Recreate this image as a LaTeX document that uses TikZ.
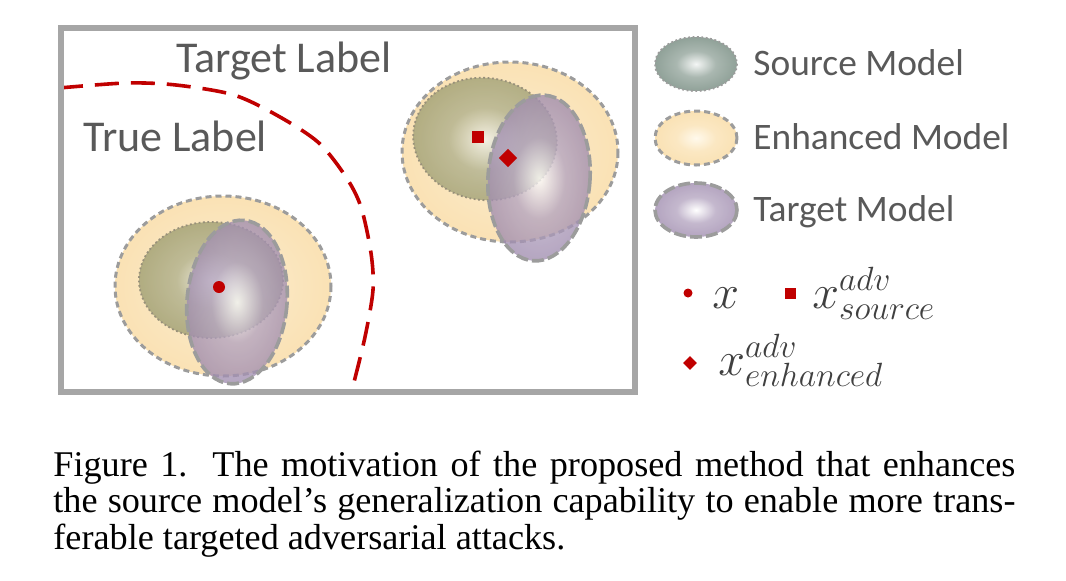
\documentclass[tikz,border=0pt]{standalone}
\usepackage{fix-cm}
\usepackage{fontspec}
\setmainfont{Liberation Serif}
\newfontfamily\labelfont{Carlito}
\usetikzlibrary{positioning}
\definecolor{cframe}{HTML}{A6A6A6}
\definecolor{cred}{HTML}{C00000}
\definecolor{ctext}{HTML}{595959}
\definecolor{cmath}{HTML}{404040}
\definecolor{cedge}{HTML}{9C9C9C}
\definecolor{cdots}{HTML}{98907A}
\definecolor{enhlt}{HTML}{FFF9EC}
\definecolor{enhdk}{HTML}{F7D699}
\definecolor{srclt}{HTML}{F0F0E6}
\definecolor{srcdk}{HTML}{74763C}
\definecolor{keylt}{HTML}{F4F6F5}
\definecolor{keydk}{HTML}{5F786B}
\definecolor{tgtlt}{HTML}{FFFFFF}
\definecolor{tgtdk}{HTML}{765A8C}
\pgfdeclareradialshading{enhshade}{\pgfpoint{0bp}{0bp}}{color(0bp)=(enhlt); color(12bp)=(enhdk!50!enhlt); color(50bp)=(enhdk)}
\pgfdeclareradialshading{srcshade}{\pgfpoint{0bp}{0bp}}{color(0bp)=(srclt); color(12bp)=(srcdk!55!srclt); color(50bp)=(srcdk)}
\pgfdeclareradialshading{keyshade}{\pgfpoint{0bp}{0bp}}{color(0bp)=(keylt); color(12bp)=(keydk!50!keylt); color(50bp)=(keydk)}
\pgfdeclareradialshading{tgtshade}{\pgfpoint{0bp}{0bp}}{color(0bp)=(tgtlt); color(12bp)=(tgtdk!55!tgtlt); color(50bp)=(tgtdk)}

\begin{document}
\begin{tikzpicture}[x=0.5pt, y=-0.5pt,
    labeltext/.style={font=\labelfont\fontsize{22}{26}\selectfont, text=ctext, inner sep=0, anchor=base west},
    keytext/.style={font=\labelfont\fontsize{18.7}{22}\selectfont, text=ctext, inner sep=0, anchor=base west},
    mathtext/.style={font=\fontsize{24}{28}\selectfont, text=cmath, inner sep=0, anchor=base west},
    captext/.style={font=\fontsize{18.1}{18.25}\selectfont, inner sep=0, anchor=base west},
    enhblob/.style={shading=enhshade, draw=cedge, line width=1.5pt, dash pattern=on 3pt off 2pt},
    srcblob/.style={shading=srcshade, fill opacity=0.75, draw=cdots, line width=0.9pt, dash pattern=on 0.9pt off 1.3pt},
    srckey/.style={shading=keyshade, draw=cedge, line width=0.9pt, dash pattern=on 0.9pt off 1.3pt},
    tgtblob/.style={shading=tgtshade, fill opacity=0.78, draw=cedge, line width=1.8pt, dash pattern=on 6pt off 2pt},
    dotmark/.style={circle, fill=cred, inner sep=0, minimum size=#1},
    boxmark/.style={rectangle, fill=cred, inner sep=0, minimum size=#1},
    gemmark/.style={rectangle, fill=cred, inner sep=0, minimum size=#1, rotate=45},
  ]
  \useasboundingbox (0,0) rectangle (1066,580);

  % decision boundary
  \draw[cred, line width=1.8pt, dash pattern=on 12pt off 6pt] plot[smooth] coordinates
    {(59,88) (126,83) (176,85) (234,95) (280,117) (319,143) (346,177) (361,207) (371,253) (373,290) (365,337) (353,386)};
  \draw[cframe, line width=3pt] (61,28) rectangle (635,392);
  \node[labeltext] (target) at (176,72) {Target Label};
  \node[labeltext] (true) at (83,151) {True Label};

  % models around x
  \shadedraw[enhblob] (223,286) ellipse [x radius=108, y radius=90];
  \shadedraw[srcblob] (211,280) ellipse [x radius=72, y radius=58];
  \shadedraw[tgtblob, rotate around={-5:(237,302)}] (237,302) ellipse [x radius=50, y radius=82];
  \node[dotmark=6pt] (xpt) at (219,287) {};

  % models around the adversarial examples
  \shadedraw[enhblob] (510,152) ellipse [x radius=108, y radius=90];
  \shadedraw[srcblob, rotate around={-8:(485,139)}] (485,139) ellipse [x radius=72, y radius=61];
  \shadedraw[tgtblob, rotate around={-4:(539,178)}] (539,178) ellipse [x radius=51, y radius=83];
  \node[boxmark=6pt] (srcpt) at (478,137) {};
  \node[gemmark=6.5pt] (enhpt) at (508,158) {};

  % legend
  \foreach \yy/\st/\nm in {64/srckey/Source Model, 138/enhblob/Enhanced Model, 210/tgtblob/Target Model}{
    \shadedraw[\st] (696,\yy) ellipse [x radius=41, y radius=27];
    \node[keytext] (key\yy) at (753,\yy+11) {\nm};
  }
  \node[dotmark=4.5pt] (xkey) at (688,293) {};
  \node[mathtext] (xlab) at (712,308) {$x$};
  \node[boxmark=5.5pt] (srckeypt) at (790,293) {};
  \node[mathtext] (srclab) at (812,308) {$x^{adv}_{source}$};
  \node[gemmark=4.8pt] (enhkeypt) at (690,363) {};
  \node[mathtext] (enhlab) at (718,375) {$x^{adv}_{enhanced}$};

  % caption
  \node[captext] (cap1) at (53,476) {\makebox[481pt][s]{Figure 1.\ \ The motivation of the proposed method that enhances}};
  \node[captext] (cap2) at (53,512) {\makebox[481pt][s]{the source model's generalization capability to enable more trans-}};
  \node[captext] (cap3) at (53,549) {ferable targeted adversarial attacks.};
\end{tikzpicture}
\end{document}
